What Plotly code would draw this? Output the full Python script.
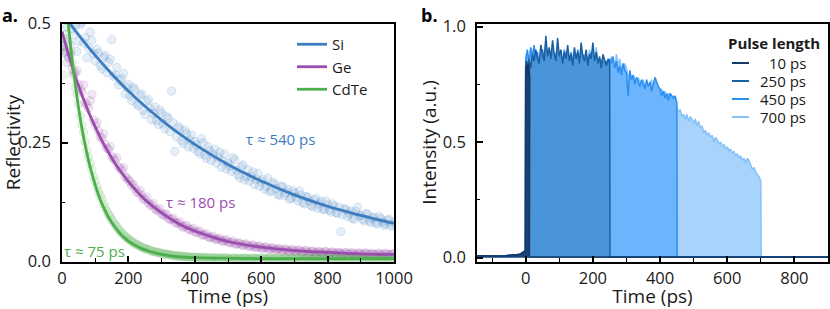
import plotly.graph_objects as go

# ---------------- Panel a: reflectivity decay ----------------
t_data = list(range(0, 1001, 10))
t_data2 = list(range(5, 1000, 10))

si_data = [
    0.452, 0.468, 0.431, 0.489, 0.495, 0.462, 0.503, 0.471, 0.448, 0.465,
    0.421, 0.438, 0.405, 0.433, 0.418, 0.466, 0.392, 0.371, 0.384, 0.352,
    0.372, 0.338, 0.361, 0.327, 0.352, 0.309, 0.340, 0.298, 0.325, 0.288,
    0.312, 0.279, 0.301, 0.358, 0.231, 0.283, 0.254, 0.276, 0.241, 0.266,
    0.252, 0.231, 0.258, 0.224, 0.241, 0.212, 0.236, 0.219, 0.198, 0.226,
    0.207, 0.189, 0.214, 0.182, 0.199, 0.171, 0.193, 0.178, 0.162, 0.185,
    0.168, 0.152, 0.175, 0.149, 0.163, 0.141, 0.158, 0.139, 0.151, 0.133,
    0.144, 0.127, 0.139, 0.121, 0.135, 0.118, 0.129, 0.112, 0.126, 0.109,
    0.119, 0.104, 0.116, 0.101, 0.063, 0.111, 0.095, 0.106, 0.089, 0.114,
    0.097, 0.085, 0.099, 0.082, 0.093, 0.079, 0.090, 0.076, 0.087, 0.074,
    0.082,
]
si_data2 = [
    0.438, 0.492, 0.455, 0.476, 0.441, 0.498, 0.459, 0.428, 0.482, 0.437,
    0.446, 0.412, 0.429, 0.397, 0.425, 0.389, 0.408, 0.379, 0.395, 0.366,
    0.348, 0.366, 0.331, 0.349, 0.318, 0.337, 0.322, 0.311, 0.296, 0.318,
    0.289, 0.305, 0.273, 0.292, 0.262, 0.279, 0.248, 0.269, 0.255, 0.238,
    0.244, 0.226, 0.249, 0.217, 0.233, 0.225, 0.207, 0.229, 0.211, 0.195,
    0.201, 0.218, 0.192, 0.176, 0.203, 0.179, 0.169, 0.188, 0.173, 0.158,
    0.172, 0.158, 0.146, 0.166, 0.153, 0.139, 0.157, 0.145, 0.131, 0.149,
    0.135, 0.148, 0.124, 0.137, 0.127, 0.115, 0.133, 0.121, 0.110, 0.127,
    0.108, 0.121, 0.103, 0.114, 0.098, 0.109, 0.101, 0.091, 0.105, 0.096,
    0.089, 0.101, 0.086, 0.092, 0.081, 0.095, 0.083, 0.079, 0.089, 0.077,
]

ge_data = [
    0.462, 0.441, 0.428, 0.405, 0.396, 0.372, 0.356, 0.334, 0.322, 0.351,
    0.286, 0.274, 0.259, 0.246, 0.236, 0.221, 0.212, 0.199, 0.191, 0.178,
    0.171, 0.160, 0.154, 0.144, 0.139, 0.131, 0.123, 0.119, 0.111, 0.108,
    0.101, 0.098, 0.091, 0.089, 0.083, 0.081, 0.075, 0.074, 0.069, 0.067,
    0.063, 0.062, 0.057, 0.056, 0.052, 0.051, 0.048, 0.047, 0.044, 0.044,
    0.041, 0.040, 0.038, 0.038, 0.035, 0.036, 0.033, 0.033, 0.031, 0.031,
    0.029, 0.030, 0.027, 0.028, 0.026, 0.026, 0.024, 0.025, 0.023, 0.024,
    0.022, 0.023, 0.021, 0.022, 0.020, 0.021, 0.019, 0.020, 0.019, 0.020,
    0.018, 0.019, 0.018, 0.019, 0.017, 0.018, 0.017, 0.018, 0.016, 0.017,
    0.016, 0.017, 0.016, 0.016, 0.015, 0.016, 0.015, 0.016, 0.015, 0.015,
    0.016,
]
ge_data2 = [
    0.451, 0.418, 0.436, 0.392, 0.401, 0.362, 0.371, 0.329, 0.338, 0.297,
    0.291, 0.262, 0.268, 0.238, 0.241, 0.216, 0.218, 0.196, 0.197, 0.176,
    0.168, 0.162, 0.146, 0.149, 0.131, 0.135, 0.118, 0.122, 0.107, 0.111,
    0.097, 0.100, 0.088, 0.091, 0.080, 0.083, 0.072, 0.076, 0.066, 0.070,
    0.060, 0.064, 0.055, 0.058, 0.050, 0.053, 0.046, 0.049, 0.042, 0.046,
    0.039, 0.043, 0.036, 0.039, 0.034, 0.037, 0.031, 0.035, 0.029, 0.033,
    0.027, 0.031, 0.025, 0.029, 0.024, 0.027, 0.022, 0.026, 0.021, 0.025,
    0.020, 0.024, 0.019, 0.023, 0.018, 0.022, 0.018, 0.021, 0.017, 0.021,
    0.016, 0.020, 0.016, 0.019, 0.015, 0.019, 0.015, 0.018, 0.014, 0.018,
    0.014, 0.018, 0.014, 0.017, 0.013, 0.017, 0.013, 0.017, 0.013, 0.016,
]

cdte_data = [
    0.445, 0.478, 0.462, 0.418, 0.365, 0.331, 0.287, 0.252, 0.219, 0.193,
    0.168, 0.147, 0.131, 0.113, 0.099, 0.088, 0.077, 0.068, 0.060, 0.053,
    0.047, 0.042, 0.037, 0.034, 0.030, 0.027, 0.025, 0.022, 0.020, 0.019,
    0.017, 0.016, 0.015, 0.013, 0.012, 0.012, 0.011, 0.010, 0.010, 0.009,
    0.009, 0.008, 0.009, 0.008, 0.008, 0.007, 0.008, 0.007, 0.007, 0.008,
    0.007, 0.006, 0.007, 0.007, 0.006, 0.007, 0.006, 0.007, 0.006, 0.006,
    0.007, 0.006, 0.006, 0.007, 0.006, 0.006, 0.007, 0.006, 0.005, 0.006,
    0.006, 0.007, 0.006, 0.005, 0.006, 0.006, 0.007, 0.006, 0.005, 0.006,
    0.006, 0.005, 0.006, 0.007, 0.006, 0.005, 0.006, 0.006, 0.005, 0.006,
    0.006, 0.005, 0.006, 0.006, 0.005, 0.006, 0.005, 0.006, 0.006, 0.005,
    0.006,
]
cdte_data2 = [
    0.392, 0.506, 0.441, 0.398, 0.352, 0.305, 0.271, 0.233, 0.206, 0.178,
    0.157, 0.139, 0.121, 0.106, 0.094, 0.083, 0.073, 0.064, 0.057, 0.050,
    0.045, 0.040, 0.036, 0.032, 0.029, 0.026, 0.024, 0.021, 0.020, 0.018,
    0.016, 0.015, 0.014, 0.013, 0.012, 0.011, 0.011, 0.010, 0.009, 0.009,
    0.009, 0.008, 0.008, 0.008, 0.007, 0.008, 0.007, 0.007, 0.007, 0.007,
    0.006, 0.007, 0.006, 0.006, 0.007, 0.006, 0.005, 0.007, 0.006, 0.006,
    0.006, 0.005, 0.007, 0.006, 0.006, 0.005, 0.006, 0.007, 0.006, 0.005,
    0.006, 0.006, 0.005, 0.007, 0.006, 0.005, 0.006, 0.006, 0.007, 0.006,
    0.005, 0.006, 0.006, 0.005, 0.007, 0.006, 0.006, 0.005, 0.006, 0.006,
    0.006, 0.005, 0.006, 0.007, 0.006, 0.005, 0.006, 0.006, 0.005, 0.006,
]

si_fit_t = [0, 25, 50, 75, 100, 150, 200, 250, 300, 350, 400, 500, 600, 700, 800, 900, 1000]
si_fit = [0.523, 0.499, 0.476, 0.454, 0.433, 0.394, 0.358, 0.326, 0.297, 0.270, 0.246,
          0.204, 0.169, 0.140, 0.116, 0.097, 0.080]

ge_fit_t = [0, 10, 20, 30, 40, 50, 60, 70, 80, 90, 100, 120, 140, 160, 180, 200, 250,
            300, 350, 400, 450, 500, 600, 700, 800, 900, 1000]
ge_fit = [0.483, 0.458, 0.434, 0.411, 0.389, 0.369, 0.350, 0.332, 0.314, 0.298, 0.283,
          0.254, 0.229, 0.206, 0.186, 0.168, 0.130, 0.102, 0.080, 0.064, 0.052, 0.042,
          0.030, 0.023, 0.019, 0.016, 0.015]

cdte_fit_t = [0, 10, 20, 30, 40, 50, 60, 70, 80, 90, 100, 110, 120, 130, 140, 150, 160,
              170, 180, 190, 200, 220, 240, 260, 280, 300, 350, 400, 500, 600, 800, 1000]
cdte_fit = [0.652, 0.566, 0.491, 0.427, 0.371, 0.322, 0.280, 0.244, 0.212, 0.185, 0.161,
            0.140, 0.122, 0.107, 0.093, 0.082, 0.072, 0.063, 0.055, 0.049, 0.043, 0.034,
            0.027, 0.022, 0.018, 0.015, 0.010, 0.008, 0.007, 0.006, 0.006, 0.006]

materials = ["Si", "Ge", "CdTe"]
tau_labels = ["τ ≈ 540 ps", "τ ≈ 180 ps", "τ ≈ 75 ps"]
tau_label_pos = [(657, 0.258), (416, 0.124), (97, 0.022)]

# ---------------- Panel b: pulse shapes ----------------
pulse_names = ["10 ps", "250 ps", "450 ps", "700 ps"]
pulse_lengths = [10, 250, 450, 700]
legend_b_title = "Pulse length"

pre_t = [-145, -120, -100, -80, -60, -40, -30, -20, -15, -10, -5, -1]
pre_v = [0.008, 0.007, 0.008, 0.007, 0.008, 0.009, 0.010, 0.013, 0.016, 0.022, 0.027, 0.030]
post_v = [0.003, 0.002]

p10_t = [0, 3, 6, 9, 12]
p10_v = [0.80, 0.85, 0.79, 0.84, 0.78]

p250_t = list(range(0, 251, 5))
p250_v = [
    0.83, 0.80, 0.86, 0.82, 0.88, 0.85, 0.90, 0.86, 0.84, 0.92,
    0.88, 0.85, 0.96, 0.87, 0.91, 0.86, 0.94, 0.88, 0.85, 0.95,
    0.87, 0.90, 0.84, 0.89, 0.86, 0.92, 0.85, 0.88, 0.83, 0.91,
    0.86, 0.89, 0.84, 0.93, 0.87, 0.85, 0.90, 0.83, 0.88, 0.86,
    0.93, 0.85, 0.89, 0.84, 0.87, 0.82, 0.88, 0.85, 0.83, 0.86,
    0.84,
]

p450_t = list(range(0, 451, 5))
p450_v = [
    0.86, 0.90, 0.84, 0.91, 0.87, 0.92, 0.85, 0.89, 0.83, 0.88,
    0.90, 0.86, 0.93, 0.84, 0.89, 0.87, 0.91, 0.82, 0.88, 0.90,
    0.85, 0.89, 0.83, 0.90, 0.86, 0.88, 0.81, 0.89, 0.85, 0.87,
    0.84, 0.90, 0.86, 0.83, 0.88, 0.85, 0.79, 0.87, 0.84, 0.89,
    0.85, 0.82, 0.88, 0.84, 0.86, 0.81, 0.87, 0.83, 0.85, 0.82,
    0.86, 0.84, 0.87, 0.82, 0.85, 0.80, 0.83, 0.79, 0.84, 0.81,
    0.80, 0.70, 0.81, 0.77, 0.79, 0.75, 0.78, 0.76, 0.74, 0.77,
    0.75, 0.73, 0.77, 0.74, 0.76, 0.72, 0.75, 0.78, 0.76, 0.74,
    0.73, 0.70, 0.72, 0.69, 0.71, 0.68, 0.71, 0.70, 0.69, 0.70,
    0.67,
]

p700_t = list(range(0, 701, 5))
p700_v = [
    0.85, 0.88, 0.82, 0.90, 0.86, 0.84, 0.89, 0.83, 0.87, 0.85,
    0.88, 0.84, 0.81, 0.87, 0.85, 0.89, 0.83, 0.86, 0.84, 0.88,
    0.83, 0.87, 0.85, 0.80, 0.86, 0.84, 0.88, 0.82, 0.85, 0.83,
    0.87, 0.84, 0.82, 0.86, 0.83, 0.88, 0.81, 0.85, 0.90, 0.84,
    0.86, 0.83, 0.91, 0.84, 0.82, 0.86, 0.80, 0.84, 0.82, 0.85,
    0.83, 0.87, 0.85, 0.81, 0.88, 0.83, 0.86, 0.82, 0.80, 0.84,
    0.82, 0.78, 0.80, 0.76, 0.79, 0.77, 0.74, 0.78, 0.76, 0.75,
    0.77, 0.74, 0.76, 0.73, 0.75, 0.77, 0.72, 0.76, 0.74, 0.73,
    0.71, 0.73, 0.70, 0.72, 0.69, 0.71, 0.70, 0.68, 0.70, 0.69,
    0.65, 0.63, 0.64, 0.61, 0.62, 0.60, 0.62, 0.59, 0.61, 0.60,
    0.58, 0.60, 0.57, 0.59, 0.56, 0.57, 0.54, 0.55, 0.53, 0.54,
    0.52, 0.53, 0.50, 0.52, 0.51, 0.49, 0.50, 0.48, 0.49, 0.47,
    0.48, 0.46, 0.47, 0.45, 0.46, 0.44, 0.45, 0.43, 0.44, 0.42,
    0.43, 0.41, 0.43, 0.42, 0.40, 0.38, 0.39, 0.37, 0.36, 0.35,
    0.33,
]

# ---------------- styling ----------------
FONT = "Open Sans"
TXT = "#1a1a1a"
W, H = 830, 309
mat_colors = {"Si": "#3b7dbf", "Ge": "#9b4dad", "CdTe": "#4caf4c"}
mat_rgb = {"Si": (59, 125, 191), "Ge": (155, 77, 173), "CdTe": (76, 175, 76)}
pulse_line = {"10 ps": "#163a66", "250 ps": "#1b5fa3", "450 ps": "#2b8ff0", "700 ps": "#86c2fa"}
pulse_fill = {"10 ps": "#1c4273", "250 ps": "#4a95d9", "450 ps": "#6cb5fc", "700 ps": "#a8d3fb"}

fig = go.Figure()

data_map = {"Si": (si_data, si_data2), "Ge": (ge_data, ge_data2), "CdTe": (cdte_data, cdte_data2)}
fit_map = {"Si": (si_fit_t, si_fit), "Ge": (ge_fit_t, ge_fit), "CdTe": (cdte_fit_t, cdte_fit)}

for m in materials:
    r, g, b = mat_rgb[m]
    d1, d2 = data_map[m]
    fig.add_trace(go.Scatter(
        x=t_data + t_data2, y=d1 + d2, mode="markers", showlegend=False, hoverinfo="skip",
        marker=dict(size=8.5, color=f"rgba({r},{g},{b},0.13)",
                    line=dict(width=0.8, color=f"rgba({r},{g},{b},0.2)")),
        xaxis="x", yaxis="y"))

for m in materials:
    ft, fv = fit_map[m]
    fig.add_trace(go.Scatter(
        x=ft, y=fv, mode="lines", name=m, legend="legend",
        line=dict(color=mat_colors[m], width=2.8, shape="spline"),
        xaxis="x", yaxis="y"))

series_b = {
    "10 ps": (p10_t, p10_v),
    "250 ps": (p250_t, p250_v),
    "450 ps": (p450_t, p450_v),
    "700 ps": (p700_t, p700_v),
}
for name, T in zip(pulse_names[::-1], pulse_lengths[::-1]):
    pt, pv = series_b[name]
    xs = pre_t + pt + [T + 1, 900]
    ys = pre_v + pv + post_v
    fig.add_trace(go.Scatter(
        x=xs, y=ys, mode="lines", name=name, showlegend=False,
        line=dict(color=pulse_line[name], width=1.5),
        fill="tozeroy", fillcolor=pulse_fill[name],
        xaxis="x2", yaxis="y2"))

# panel b legend (compact, right-aligned labels like the original)
fig.add_annotation(x=726 / W, y=1 - 43 / H, xref="paper", yref="paper",
                   text=f"<b>{legend_b_title}</b>", showarrow=False,
                   xanchor="left", yanchor="middle",
                   font=dict(family=FONT, size=15, color=TXT))
for i, name in enumerate(pulse_names):
    yy = 1 - (63 + 18 * i) / H
    fig.add_shape(type="line", xref="paper", yref="paper",
                  x0=732 / W, x1=749 / W, y0=yy, y1=yy,
                  line=dict(color=pulse_line[name], width=2))
    fig.add_annotation(x=808 / W, y=yy, xref="paper", yref="paper", text=name,
                       showarrow=False, xanchor="right", yanchor="middle",
                       font=dict(family=FONT, size=15, color=TXT))

# annotations
for m, lab, (ax_, ay_) in zip(materials, tau_labels, tau_label_pos):
    fig.add_annotation(x=ax_, y=ay_, xref="x", yref="y", text=lab, showarrow=False,
                       font=dict(family=FONT, size=15, color=mat_colors[m]))

fig.add_annotation(x=0 / W, y=1 - 1 / H, xref="paper", yref="paper", text="<b>a.</b>",
                   showarrow=False, xanchor="left", yanchor="top",
                   font=dict(family=FONT, size=18, color="black"))
fig.add_annotation(x=419 / W, y=1 - 1 / H, xref="paper", yref="paper", text="<b>b.</b>",
                   showarrow=False, xanchor="left", yanchor="top",
                   font=dict(family=FONT, size=18, color="black"))

ydom = [1 - 261.5 / H, 1 - 23.5 / H]

common_axis = dict(
    showline=True, linecolor="black", linewidth=1.6, mirror=True,
    ticks="inside", ticklen=6, tickwidth=1.5, tickcolor="black",
    showgrid=False, zeroline=False, automargin=False,
    tickfont=dict(family=FONT, size=16.5, color=TXT),
)
minor_common = dict(ticks="inside", ticklen=3.5, tickwidth=1.2, tickcolor="black")

fig.update_layout(
    width=W, height=H,
    margin=dict(l=0, r=0, t=0, b=0),
    paper_bgcolor="white", plot_bgcolor="white",
    font=dict(family=FONT, color=TXT),
    xaxis=dict(domain=[62 / W, 394 / W], range=[0, 1000], anchor="y",
               tickvals=[0, 200, 400, 600, 800, 1000],
               minor=dict(tickvals=[100, 300, 500, 700, 900], **minor_common),
               title=dict(text="Time (ps)", font=dict(family=FONT, size=19, color=TXT), standoff=4),
               ticklabelstandoff=1,
               **common_axis),
    yaxis=dict(domain=ydom, range=[0, 0.5], anchor="x",
               tickvals=[0, 0.25, 0.5], ticktext=["0.0", "0.25", "0.5"],
               minor=dict(tickvals=[0.125, 0.375], **minor_common),
               title=dict(text="Reflectivity", font=dict(family=FONT, size=19, color=TXT), standoff=12),
               ticklabelstandoff=6,
               **common_axis),
    xaxis2=dict(domain=[477 / W, 828 / W], range=[-145, 900], anchor="y2",
                tickvals=[0, 200, 400, 600, 800],
                minor=dict(tickvals=[-100, 100, 300, 500, 700], **minor_common),
                title=dict(text="Time (ps)", font=dict(family=FONT, size=19, color=TXT), standoff=4),
                ticklabelstandoff=1,
                **common_axis),
    yaxis2=dict(domain=ydom, range=[-0.017, 1.013], anchor="x2",
                tickvals=[0, 0.5, 1.0], ticktext=["0.0", "0.5", "1.0"],
                minor=dict(tickvals=[0.25, 0.75], **minor_common),
                title=dict(text="Intensity (a.u.)", font=dict(family=FONT, size=19, color=TXT), standoff=1),
                ticklabelstandoff=6,
                **common_axis),
    legend=dict(x=292 / W, y=1 - 28 / H, xanchor="left", yanchor="top",
                bgcolor="rgba(0,0,0,0)", font=dict(family=FONT, size=15, color=TXT),
                tracegroupgap=0),
    showlegend=True,
)

fig.write_html("out.html", config={"displayModeBar": False},
               post_script="document.body.style.margin='0px';document.body.style.overflow='hidden';")
